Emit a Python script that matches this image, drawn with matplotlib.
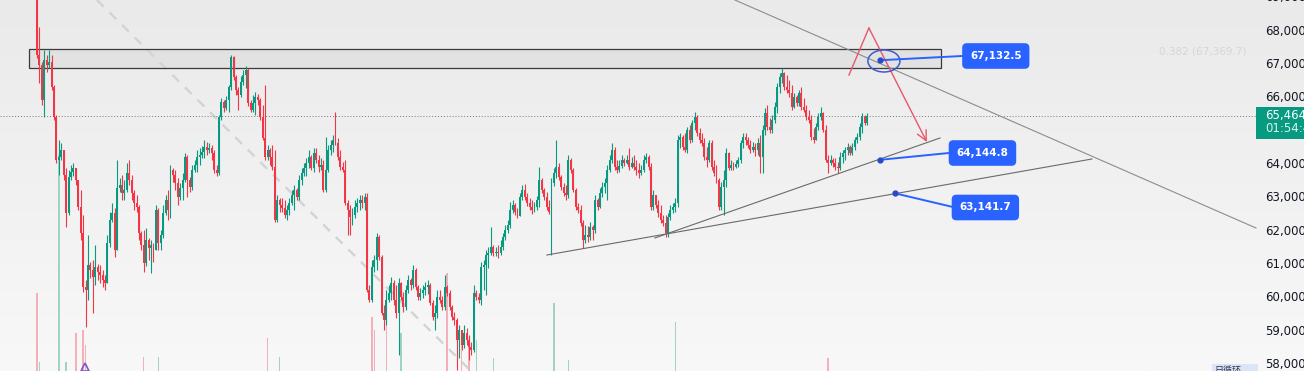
import numpy as np
import matplotlib
matplotlib.use('Agg')
import matplotlib.pyplot as plt
from matplotlib.patches import Rectangle, Ellipse
from matplotlib.colors import LinearSegmentedColormap

# candles; open = previous close
first_open = 69540
closes = [
    67290, 66990, 65940, 67140, 66990, 67080, 66330, 65430, 64140, 64230, 64440, 63690, 62550, 63630,
    63780, 63900, 63540, 62730, 61950, 60330, 60240, 60990, 60840, 60630, 60930, 60780, 60690, 60540,
    60450, 61650, 62340, 62550, 61440, 63300, 63390, 63150, 63240, 63750, 63540, 63150, 62850, 62730,
    61950, 61590, 61050, 61740, 61500, 61590, 61440, 62640, 61650, 61890, 62550, 62940,
    62640, 63840, 63690, 63450, 63030, 63300, 63540, 64230, 63540, 63330, 63840, 63990, 64230, 64290,
    64380, 64530, 64440, 64500, 64350, 63840, 63750, 65430, 65880, 65700, 65940, 66330, 67230, 66630,
    66240, 66090, 66480, 66690, 66840, 65850, 65640, 65850, 66030, 65940, 65430, 64800, 64230, 64440,
    64230, 63930, 62340, 62940, 62790, 62700, 62490, 62640, 62850, 63090, 63240, 63030, 63540, 63750,
    63900, 64050, 64230, 63900,
    64350, 64140, 63930, 63990, 63240, 63840, 64440, 64590, 64740, 64650, 64230, 63930, 63840, 62850,
    62640, 62430, 62490, 62730, 62850, 62940, 62850, 63030, 60240, 59940, 60930, 61140, 61830, 61230,
    59550, 59340, 59940, 60150, 60450, 59940, 59550, 60450, 60030, 59730, 60240, 60540, 60390, 60840,
    60330, 60030, 60150, 60240, 60330, 60390, 59850, 59430, 59550, 60030, 59940, 59730, 60330, 60150,
    59730, 59430, 59340,
    58740, 59040, 58590, 58950, 58740, 58530, 58440, 60150, 60030, 59940, 60930, 60990, 61290, 61350,
    61530, 61350, 61380, 61350, 61530, 61830, 62040, 62190, 62640, 62790, 62580, 62460, 63030, 63240,
    63030, 62850, 62730, 62640, 62730, 62940, 63540, 63240, 63030, 62730, 62580, 63450, 63750, 63930,
    63630, 63330, 63150, 63090, 64140, 63840, 63240, 62730, 62640, 62250, 61740, 61890, 61830, 62130,
    62040, 62940, 62730, 63150, 63330, 63450,
    63840, 64140, 64440, 63930, 63840, 63960, 64140, 64050, 64140, 63930, 64050, 63930, 63840, 63750,
    63840, 64140, 64230, 63930, 62730, 63090, 62790, 62550, 62340, 62250, 61950, 62430, 62640, 62730,
    62850, 64740, 64830, 64530, 64440, 65040, 64740, 65250, 65430, 64950, 64740, 64650, 64230, 64140,
    64650, 63930, 63750, 63540, 62730, 63330, 63540, 64350, 63900, 63990, 63930, 64020, 64140, 64650,
    64830, 64740, 64590, 64440, 64530,
    64440, 64650, 64230, 65040, 65550, 65130, 65040, 65340, 65730, 66330, 66630, 66750, 66330, 66240,
    66150, 65730, 66030, 65850, 66150, 65730, 65640, 65430, 65340, 64830, 64740, 65130, 65430, 65550,
    65040, 64140, 64050, 64140, 64050, 63930, 63900, 64230, 64350, 64440, 64530, 64350, 64530, 64740,
    64830, 65130, 65430, 65250, 65464,
]
highs = [
    69840, 68130, 67080, 67440, 67290, 67440, 67290, 66390, 65490, 64740, 64650, 64440, 63900, 63840,
    63990, 64050, 63900, 63540, 63240, 62490, 60540, 61890, 61080, 61140, 61590, 61020, 60990, 60840,
    60690, 61890, 62580, 62850, 62700, 64140, 63600, 63690, 63540, 64050, 64140, 63690, 63240, 63090,
    62790, 62010, 62040, 62100, 61800, 61740, 61650, 62790, 62700, 62040, 62790, 63090,
    63240, 63990, 63900, 63840, 63600, 63450, 63750, 64350, 64290, 63630, 63990, 64140, 64440, 64500,
    64560, 64740, 64680, 64650, 64590, 64440, 63990, 65490, 66000, 65940, 66060, 66390, 67290, 67260,
    66690, 66330, 66660, 66840, 66960, 66900, 65940, 66090, 66180, 66120, 66000, 65790, 66390, 64590,
    64500, 64590, 64440, 63090, 63000, 63000, 62940, 62790, 63000, 63240, 63390, 63300, 63690, 63900,
    64050, 64200, 64440, 64290,
    64500, 64500, 64290, 64200, 64140, 64830, 64590, 64740, 64890, 65580, 64800, 64440, 64080, 64140,
    62940, 62790, 62700, 62940, 63000, 63090, 63090, 63150, 63150, 60390, 61140, 61290, 61950, 61890,
    61290, 59790, 60240, 60390, 60630, 60540, 60390, 60600, 60480, 60180, 60390, 60690, 60600, 60990,
    60900, 60390, 60300, 60390, 60480, 60540, 60450, 59940, 59790, 60240, 60240, 60060, 60690, 60390,
    60240, 59790, 59580,
    59400, 59190, 59040, 59190, 59100, 58890, 58680, 60390, 60240, 60150, 61080, 61140, 61440, 61530,
    62130, 61590, 61530, 61590, 61740, 61950, 62190, 62340, 62880, 62940, 62850, 62700, 63150, 63390,
    63420, 63150, 63000, 62940, 62880, 63060, 63930, 63600, 63300, 63180, 62940, 63600, 63900, 64740,
    64050, 63690, 63450, 63390, 64290, 64200, 63900, 63300, 62850, 62790, 62340, 62190, 62160, 62280,
    62190, 63090, 63000, 63300, 63480, 63600,
    63990, 64290, 64650, 64530, 64140, 64140, 64290, 64200, 64290, 64500, 64230, 64290, 64140, 64050,
    63990, 64290, 64350, 64290, 64050, 63240, 63090, 62940, 62790, 62490, 62490, 62550, 62790, 62850,
    63000, 64890, 64950, 64890, 64950, 65130, 65190, 65340, 65580, 65490, 65100, 64950, 64800, 64530,
    64740, 64740, 64140, 63990, 63600, 63480, 63840, 64500, 64380, 64140, 64080, 64140, 64230, 64740,
    64950, 64950, 64830, 64740, 64680,
    64650, 64800, 64890, 65190, 65700, 65790, 65400, 65490, 65880, 66450, 66750, 66900, 66780, 66690,
    66540, 66390, 66150, 66090, 66240, 66330, 66000, 65790, 65640, 65490, 65100, 65250, 65550, 65730,
    65580, 65190, 64290, 64290, 64200, 64200, 64080, 64380, 64440, 64530, 64650, 64590, 64650, 64830,
    64950, 65250, 65550, 65490, 65550,
]
lows = [
    67200, 66450, 65790, 65430, 66780, 66900, 66240, 65340, 64050, 63690, 64140, 63540, 62130, 62490,
    63540, 63660, 63390, 62640, 61740, 60180, 59130, 59940, 60600, 59550, 60390, 60540, 60450, 60330,
    60240, 60450, 61530, 62280, 61230, 61440, 63180, 62940, 62940, 63180, 63390, 62940, 62640, 62580,
    61740, 61440, 60780, 60960, 61140, 60750, 61080, 61440, 61440, 61440, 61800, 62490,
    62340, 62400, 63480, 63240, 62790, 62940, 62940, 63480, 63030, 63180, 63240, 63780, 63780, 63990,
    64200, 64200, 64290, 64350, 64140, 63750, 63660, 63690, 65340, 65580, 65640, 65580, 66240, 66540,
    66090, 65640, 66030, 66390, 66300, 65760, 65580, 65580, 65490, 65790, 65340, 64740, 64140, 64140,
    63990, 63840, 62280, 62280, 62580, 62580, 62400, 62340, 62490, 62790, 62640, 62940, 62940, 63390,
    63660, 63660, 63900, 63840,
    63780, 64050, 63780, 63840, 63180, 63180, 63780, 64290, 64380, 64590, 64140, 63840, 63780, 62790,
    61890, 61890, 62190, 62400, 62580, 62640, 62700, 62640, 60180, 59880, 59880, 60780, 60840, 61140,
    59490, 59040, 59190, 59880, 59940, 59790, 59400, 58290, 59940, 59580, 59640, 60150, 60240, 60300,
    60240, 59940, 59940, 60000, 60090, 60120, 59790, 59340, 59040, 59400, 59850, 59640, 59640, 60060,
    59640, 59340, 59190,
    57840, 58200, 58440, 58500, 58590, 58140, 58290, 58380, 59940, 59850, 59790, 60240, 60090, 60900,
    61290, 61260, 61260, 61200, 61290, 61440, 61740, 61950, 62100, 62550, 62490, 62400, 62490, 62940,
    62940, 62760, 62640, 62520, 62580, 62640, 62730, 63150, 62940, 62640, 62520, 61290, 63360, 63600,
    63540, 63240, 63060, 62940, 63000, 63750, 63180, 62640, 62550, 62160, 61500, 61650, 61680, 61740,
    61740, 61950, 62640, 62700, 63030, 63150,
    62940, 63780, 64050, 63840, 63750, 63780, 63900, 63960, 64020, 63840, 63900, 63840, 63690, 63600,
    63690, 63780, 64050, 63840, 62640, 62640, 62700, 62430, 62250, 62160, 61830, 61830, 62340, 62550,
    62580, 62730, 64500, 64440, 64380, 64350, 64650, 64680, 65040, 64860, 64650, 64560, 64140, 63930,
    64080, 63840, 63660, 63450, 62640, 62640, 62490, 63330, 63840, 63840, 63840, 63900, 63930, 64050,
    64500, 64590, 64500, 64350, 64380,
    64260, 64290, 63750, 63750, 64890, 65040, 64950, 64950, 65250, 65550, 66150, 66450, 66240, 66150,
    66030, 65640, 65700, 65760, 65760, 65640, 65580, 65340, 65250, 64740, 64650, 64740, 65040, 65340,
    64980, 64080, 63750, 63990, 63930, 63840, 63750, 63840, 64050, 64140, 64290, 64290, 64290, 64440,
    64650, 64740, 64950, 65190, 65190,
]

# volume bars that stand out above the bottom edge
vol_idx = [0, 1, 9, 12, 16, 19, 20, 44, 50, 95, 100, 138, 139, 144, 150, 169, 175, 178, 181, 188, 213, 219, 263, 326]
vol_val = [78, 9, 216, 9, 38, 41, 26, 14, 14, 33, 14, 54, 41, 51, 38, 98, 31, 26, 31, 13, 68, 11, 49, 13]
vol_up = [0, 1, 1, 1, 0, 0, 0, 0, 1, 0, 1, 0, 0, 0, 1, 0, 0, 0, 1, 1, 1, 1, 1, 0]

cur_price = 65464.0
countdown = '01:54:45'
axis_prices = [69000, 68000, 67000, 66000, 64000, 63000, 62000, 61000, 60000, 59000, 58000]

# drawings (bar index, price)
zone_x = (-3.3, 372.5)
zone_y = (66890, 67460)
down_x, down_y = [287.6, 502.3], [68940, 62100]
dash_x, dash_y = [24.7, 178.4], [68940, 57840]
flat_x, flat_y = [210.1, 434.7], [61290, 64170]
steep_x, steep_y = [254.6, 372.1], [61800, 64800]
note_price = [67132.5, 64144.8, 63141.7]
note_x = [347.3, 347.3, 353.5]
link_x = [381.1, 375.8, 377.4]
link_y = [67260, 64350, 62730]
box_x = [395.1, 389.6, 390.8]
box_y = [67260, 64350, 62715]
arrow_x = [334.6, 342.8, 366.7]
arrow_y = [66690, 68100, 64680]
fib_text = '0.382 (67,369.7)'
fib_x, fib_y = 462.3, 67380

XL = (-15.25, 522.1)
YL = (57810, 68940)
UP, DOWN = '#089981', '#f23645'

opens = np.array([first_open] + closes[:-1], dtype=float)
c = np.array(closes, dtype=float)
h = np.maximum(np.array(highs, dtype=float), np.maximum(opens, c))
l = np.minimum(np.array(lows, dtype=float), np.minimum(opens, c))
x = np.arange(len(c))
cols = np.where(c >= opens, UP, DOWN)

fig = plt.figure(figsize=(13.04, 3.71), dpi=100)

bg = fig.add_axes([0, 0, 1, 1])
grad = np.linspace(0, 1, 256).reshape(-1, 1)
bg.imshow(grad, aspect='auto', extent=[0, 1, 0, 1], origin='upper',
          cmap=LinearSegmentedColormap.from_list('bg', ['#eaeaea', '#f8f8f8']))
bg.set_axis_off()

vax = fig.add_axes([0, 0, 1, 1])
vax.bar(vol_idx, vol_val, width=0.55,
        color=['#9fd3c6' if u else '#f3b0ba' for u in vol_up], linewidth=0)
vax.set_xlim(XL)
vax.set_ylim(0, 371)
vax.set_axis_off()

ax = fig.add_axes([0, 0, 1, 1])
ax.set_axis_off()
ax.set_xlim(XL)
ax.set_ylim(YL)

ax.plot(dash_x, dash_y, color='#d3d3d3', lw=1.7, dashes=(4, 3.5), zorder=1)
ax.add_patch(Rectangle((zone_x[0], zone_y[0]), zone_x[1] - zone_x[0], zone_y[1] - zone_y[0],
                       facecolor=(0.84, 0.84, 0.84, 0.45), edgecolor='#3a3a3a', lw=0.9, zorder=2))

ax.vlines(x, l, h, colors=cols, lw=0.8, zorder=3)
body = np.maximum(np.abs(c - opens), 25)
ax.bar(x, body, bottom=np.minimum(opens, c), width=0.8, color=cols, linewidth=0, zorder=4)

ax.plot([XL[0], down_x[1]], [cur_price, cur_price], color='#777777', lw=0.7, ls=(0, (1, 2)), zorder=2)
ax.plot(down_x, down_y, color='#8c8c8c', lw=0.8, zorder=5)
ax.plot(flat_x, flat_y, color='#6a6a6a', lw=0.8, zorder=5)
ax.plot(steep_x, steep_y, color='#6a6a6a', lw=0.8, zorder=5)

# red scenario arrow
ax.plot(arrow_x[:2], arrow_y[:2], color='#e8566c', lw=1, zorder=6)
ax.annotate('', xy=(arrow_x[2], arrow_y[2]), xytext=(arrow_x[1], arrow_y[1]),
            arrowprops=dict(arrowstyle='->,head_length=0.7,head_width=0.35', color='#e8566c',
                            lw=1, shrinkA=0, shrinkB=0), zorder=6)

ax.add_patch(Ellipse((349.0, 67110), 13.2, 660, fill=False, ec='#3d5bd1', lw=1.1, zorder=7))

for px, py, lx, ly, bx, by in zip(note_x, note_price, link_x, link_y, box_x, box_y):
    ax.plot([px, lx], [py, ly], color='#2962ff', lw=1.4, zorder=7)
    ax.plot(px, py, 'o', ms=3.5, color='#2b4ac9', zorder=8)
    ax.text(bx, by, f'{py:,.1f}', ha='center', va='center', color='white', fontsize=7.5,
            fontweight='bold', zorder=9,
            bbox=dict(boxstyle='round,pad=0.75,rounding_size=0.45', fc='#2962ff', ec='none'))

ax.text(fib_x, fib_y, fib_text, fontsize=7.5, color='#d6d6d6', va='center')

# price scale
for p in axis_prices:
    ax.text(506, p, f'{p:,.1f}', fontsize=8.5, color='#131722', va='center')
ax.add_patch(Rectangle((502.3, 64770), 30, 960, facecolor='#089981', edgecolor='none',
                       zorder=8, clip_on=False))
ax.text(506, cur_price, f'{cur_price:,.1f}', fontsize=8.5, color='white', va='center', zorder=9)
ax.text(506, 65070, countdown, fontsize=8.5, color='#d8f3ec', va='center', zorder=9)

ax.add_patch(Rectangle((484.1, 57700), 19, 320, facecolor='#dbe5f5', edgecolor='none', zorder=8))
ax.text(485.0, 57830, '日循环', fontsize=6.5, color='#2a3550', va='center', zorder=9,
        family=['Noto Sans CJK SC', 'DejaVu Sans'])

ax.plot(19.8, 57930, marker='^', ms=6, mfc='none', mec='#7e57c2', mew=1.2, zorder=6)

fig.savefig('out.png', dpi=100)
